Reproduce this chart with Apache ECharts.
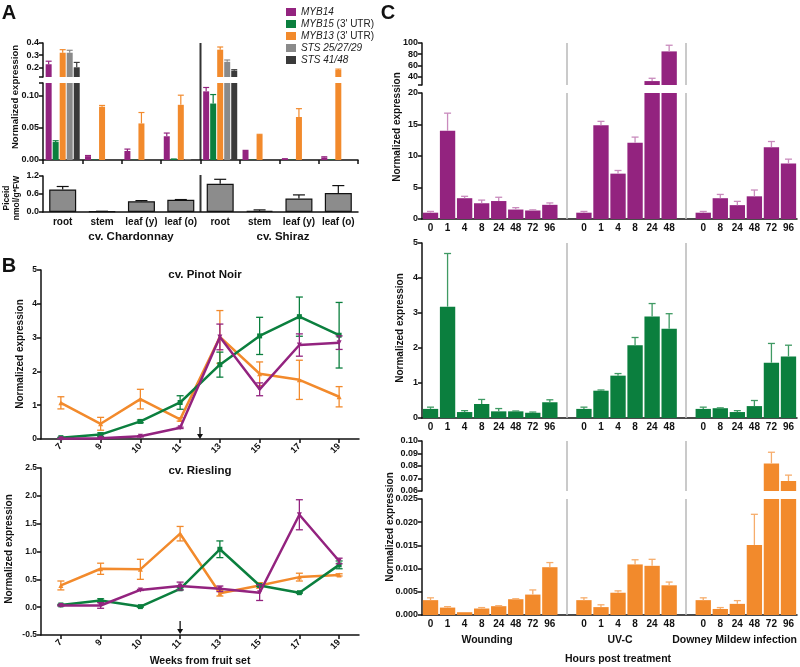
<!DOCTYPE html>
<html>
<head>
<meta charset="utf-8">
<script src="https://cdn.jsdelivr.net/npm/echarts@6.0.0/dist/echarts.min.js"></script>
<style>
html, body { margin: 0; padding: 0; background: #fff; }
#chart { width: 800px; height: 667px; }
</style>
</head>
<body>
<div id="chart"></div>
<script>
// ---------- panel A : tissues ----------
var tissues = ['root', 'stem', 'leaf (y)', 'leaf (o)', 'root', 'stem', 'leaf (y)', 'leaf (o)'];
var myb14 = [0.225, 0.006, 0.014, 0.037, 0.107, 0.014, 0.0015, 0.004];
var myb14Err = [0.025, 0.001, 0.003, 0.005, 0.006, 0.001, 0.0005, 0.001];
var myb15 = [0.028, 0.0008, 0.0005, 0.0025, 0.088, 0.0005, 0.0005, 0.001];
var myb15Err = [0.002, 0, 0, 0, 0.014, 0, 0, 0];
var myb13 = [0.32, 0.083, 0.057, 0.086, 0.345, 0.039, 0.067, 0.178];
var myb13Err = [0.025, 0.002, 0.017, 0.015, 0.022, 0.001, 0.013, 0.007];
var sts25 = [0.32, 0, 0, 0.001, 0.245, 0, 0, 0];
var sts25Err = [0.02, 0, 0, 0, 0.015, 0, 0, 0];
var sts41 = [0.2, 0, 0, 0.0003, 0.172, 0, 0, 0];
var sts41Err = [0.04, 0, 0, 0, 0.008, 0, 0, 0];
var piceid = [0.75, 0.02, 0.36, 0.41, 0.94, 0.04, 0.45, 0.63];
var piceidErr = [0.1, 0.005, 0.02, 0.005, 0.15, 0.03, 0.12, 0.25];

// ---------- panel B : berry development ----------
var weeks = ['7', '9', '10', '11', '13', '15', '17', '19'];
var pnMyb14 = [0.01, 0.02, 0.08, 0.33, 3.02, 1.47, 2.78, 2.85];
var pnMyb14Err = [0.01, 0.02, 0.02, 0.02, 0.38, 0.19, 0.33, 0.2];
var pnMyb15 = [0.04, 0.13, 0.52, 1.08, 2.2, 3.05, 3.62, 3.07];
var pnMyb15Err = [0.01, 0.05, 0.04, 0.2, 0.37, 0.55, 0.58, 0.97];
var pnMyb13 = [1.07, 0.45, 1.18, 0.58, 3.02, 1.93, 1.75, 1.25];
var pnMyb13Err = [0.18, 0.19, 0.29, 0.05, 0.78, 0.35, 0.58, 0.3];
var rsMyb14 = [0.03, 0.03, 0.31, 0.38, 0.33, 0.26, 1.66, 0.83];
var rsMyb14Err = [0.01, 0.05, 0.01, 0.07, 0.05, 0.14, 0.27, 0.05];
var rsMyb15 = [0.04, 0.12, 0.01, 0.33, 1.04, 0.39, 0.26, 0.76];
var rsMyb15Err = [0.01, 0.03, 0.01, 0.02, 0.15, 0.02, 0.01, 0.07];
var rsMyb13 = [0.39, 0.69, 0.68, 1.32, 0.25, 0.39, 0.54, 0.58];
var rsMyb13Err = [0.08, 0.1, 0.18, 0.13, 0.05, 0.05, 0.07, 0.02];

// ---------- panel C : treatments (g1/g2 = empty slots between groups) ----------
var hours = ['0', '1', '4', '8', '24', '48', '72', '96', 'g1', '0', '1', '4', '8', '24', '48', 'g2', '0', '8', '24', '48', '72', '96'];
var cMyb14 = [1.0, 14.0, 3.3, 2.5, 2.85, 1.5, 1.35, 2.25, null, 1.0, 14.9, 7.2, 12.1, 32, 85, null, 1.0, 3.3, 2.2, 3.6, 11.4, 8.8];
var cMyb14Err = [0.2, 2.8, 0.3, 0.5, 0.6, 0.3, 0.1, 0.3, null, 0.2, 0.6, 0.5, 0.9, 5, 11, null, 0.2, 0.6, 0.6, 1.0, 0.9, 0.7];
var cMyb15 = [0.26, 3.18, 0.17, 0.4, 0.19, 0.19, 0.15, 0.45, null, 0.26, 0.78, 1.21, 2.08, 2.9, 2.55, null, 0.26, 0.28, 0.17, 0.34, 1.58, 1.76];
var cMyb15Err = [0.05, 1.52, 0.04, 0.13, 0.08, 0.01, 0.02, 0.07, null, 0.05, 0.02, 0.06, 0.22, 0.37, 0.43, null, 0.05, 0.01, 0.04, 0.16, 0.55, 0.32];
var cMyb13 = [0.0032, 0.0016, 0.0006, 0.0014, 0.0019, 0.0034, 0.0044, 0.0103, null, 0.0032, 0.0017, 0.0048, 0.0109, 0.0106, 0.0064, null, 0.0032, 0.0013, 0.0024, 0.0151, 0.082, 0.068];
var cMyb13Err = [0.0005, 0.0002, 0, 0.0002, 0.0001, 0.0001, 0.001, 0.001, null, 0.0005, 0.0005, 0.0004, 0.001, 0.0014, 0.0007, null, 0.0005, 0.0003, 0.0007, 0.0066, 0.009, 0.0047];

var purple = '#93237f', green = '#0b7f3e', orange = '#f28a2c', grey = '#8a8a8a', dark = '#3a3a3a';
var FONT = '"Liberation Sans", Arial, sans-serif';
var INK = '#111';

var chart = echarts.init(document.getElementById('chart'));

var grids = [
    { left: 43, top: 43, width: 315, height: 34 },    // 0 A upper
    { left: 43, top: 83, width: 315, height: 77 },    // 1 A lower
    { left: 43, top: 176, width: 315, height: 36 },   // 2 A piceid
    { left: 41, top: 270, width: 318, height: 169 },  // 3 B pinot
    { left: 41, top: 468, width: 318, height: 167 },  // 4 B riesling
    { left: 422, top: 43, width: 375, height: 42 },   // 5 C top upper
    { left: 422, top: 93, width: 375, height: 126 },  // 6 C top lower
    { left: 422, top: 243, width: 375, height: 175 }, // 7 C middle
    { left: 422, top: 441, width: 375, height: 50 },  // 8 C bottom upper
    { left: 422, top: 499, width: 375, height: 116 }  // 9 C bottom lower
];

function fix(n) { return function (v) { return v.toFixed(n); }; }

function yAxisCfg(g, o) {
    var a = {
        type: 'value', gridIndex: g, min: o.min, max: o.max,
        axisLine: { show: true, lineStyle: { color: INK, width: 1.5 } },
        axisTick: { show: true, length: 4, lineStyle: { color: INK, width: 1.5 } },
        axisLabel: { fontSize: o.fs || 9, fontWeight: 'bold', color: INK, fontFamily: FONT, margin: 4, formatter: o.fmt },
        splitLine: { show: false }
    };
    if (o.interval != null) a.interval = o.interval;
    if (o.labels) a.axisLabel.customValues = o.labels;
    if (o.ticks) a.axisTick.customValues = o.ticks;
    return a;
}

function xAxisCfg(g, cats, o) {
    return {
        type: 'category', gridIndex: g, data: cats, show: o.show !== false,
        axisLine: { show: true, onZero: false, lineStyle: { color: INK, width: 1.5 } },
        axisTick: { show: !!o.ticks, alignWithLabel: !!o.align, interval: 0, length: 4, lineStyle: { color: INK, width: 1.5 } },
        axisLabel: {
            show: !!o.labels, interval: 0, rotate: o.rotate || 0, fontSize: o.fs || 10, fontWeight: 'bold',
            color: INK, fontFamily: FONT, margin: o.margin || 5,
            formatter: function (v) { return (v === 'g1' || v === 'g2') ? '' : v; }
        }
    };
}

var xAxes = [
    xAxisCfg(0, tissues, { show: false }),
    xAxisCfg(1, tissues, { ticks: true }),
    xAxisCfg(2, tissues, { labels: true, margin: 5 }),
    xAxisCfg(3, weeks, { labels: true, ticks: true, align: true, rotate: 45, fs: 9, margin: 6 }),
    xAxisCfg(4, weeks, { labels: true, ticks: true, align: true, rotate: 45, fs: 9, margin: 6 }),
    xAxisCfg(5, hours, { show: false }),
    xAxisCfg(6, hours, { labels: true, margin: 4 }),
    xAxisCfg(7, hours, { labels: true, margin: 4 }),
    xAxisCfg(8, hours, { show: false }),
    xAxisCfg(9, hours, { labels: true, margin: 4 })
];

var yAxes = [
    yAxisCfg(0, { min: 0.12, max: 0.4, labels: [0.2, 0.3, 0.4], ticks: [0.12, 0.2, 0.3, 0.4], fmt: fix(1) }),
    yAxisCfg(1, { min: 0, max: 0.12, labels: [0, 0.05, 0.1], ticks: [0, 0.05, 0.1, 0.12], fmt: fix(2) }),
    yAxisCfg(2, { min: 0, max: 1.2, interval: 0.6, fmt: fix(1) }),
    yAxisCfg(3, { min: 0, max: 5, interval: 1, fmt: fix(0), fs: 8.5 }),
    yAxisCfg(4, { min: -0.5, max: 2.5, interval: 0.5, fmt: fix(1), fs: 8.5 }),
    yAxisCfg(5, { min: 25, max: 100, labels: [40, 60, 80, 100], ticks: [25, 40, 60, 80, 100], fmt: fix(0) }),
    yAxisCfg(6, { min: 0, max: 20, interval: 5, fmt: fix(0) }),
    yAxisCfg(7, { min: 0, max: 5, interval: 1, fmt: fix(0) }),
    yAxisCfg(8, { min: 0.06, max: 0.1, labels: [0.06, 0.07, 0.08, 0.09, 0.1], ticks: [0.06, 0.07, 0.08, 0.09, 0.1], fmt: fix(2) }),
    yAxisCfg(9, { min: 0, max: 0.025, interval: 0.005, fmt: fix(3) })
];

var series = [];

// error whisker helper (upward only or both ways)
function whisker(x, y0, y1, half, both) {
    var kids = [
        { type: 'line', shape: { x1: x, y1: y0, x2: x, y2: y1 } },
        { type: 'line', shape: { x1: x - half, y1: y1, x2: x + half, y2: y1 } }
    ];
    if (both) kids.push({ type: 'line', shape: { x1: x - half, y1: y0, x2: x + half, y2: y0 } });
    return kids;
}

// ---- A bars, drawn in both halves of the broken axis ----
var aGenes = [
    { name: 'MYB14', v: myb14, e: myb14Err, c: purple },
    { name: 'MYB15', v: myb15, e: myb15Err, c: green },
    { name: 'MYB13', v: myb13, e: myb13Err, c: orange },
    { name: 'STS 25/27/29', v: sts25, e: sts25Err, c: grey },
    { name: 'STS 41/48', v: sts41, e: sts41Err, c: dark }
];
[0, 1].forEach(function (g) {
    aGenes.forEach(function (gene) {
        series.push({
            type: 'bar', name: gene.name, xAxisIndex: g, yAxisIndex: g, data: gene.v,
            barWidth: 6, barGap: '17%', clip: true, itemStyle: { color: gene.c }
        });
    });
    var rows = [];
    aGenes.forEach(function (gene, k) {
        gene.v.forEach(function (v, i) { if (gene.e[i] > 0) rows.push([i, v, v + gene.e[i], k]); });
    });
    series.push({
        type: 'custom', name: 'errA' + g, xAxisIndex: g, yAxisIndex: g, data: rows, clip: true, z: 3,
        encode: { x: 0, y: [1, 2] },
        renderItem: function (params, api) {
            var k = api.value(3);
            var b = api.coord([api.value(0), api.value(1)]);
            var t = api.coord([api.value(0), api.value(2)]);
            var x = b[0] + (k - 2) * 7.02;
            return { type: 'group', children: whisker(x, b[1], t[1], 3, false).map(function (s) {
                s.style = { stroke: aGenes[k].c, lineWidth: 1.2 }; return s; }) };
        }
    });
});

// ---- A piceid ----
series.push({
    type: 'bar', name: 'Piceid', xAxisIndex: 2, yAxisIndex: 2, data: piceid, barWidth: 27,
    itemStyle: { color: '#8c8c8c', borderColor: INK, borderWidth: 1.2 }
});
series.push({
    type: 'custom', name: 'errPiceid', xAxisIndex: 2, yAxisIndex: 2, z: 3,
    data: piceid.map(function (v, i) { return [i, v, v + piceidErr[i]]; }),
    encode: { x: 0, y: [1, 2] },
    renderItem: function (params, api) {
        var b = api.coord([api.value(0), api.value(1)]);
        var t = api.coord([api.value(0), api.value(2)]);
        return { type: 'group', children: whisker(b[0], b[1], t[1], 6, false).map(function (s) {
            s.style = { stroke: INK, lineWidth: 1.2 }; return s; }) };
    }
});

// ---- B lines ----
function lineSet(g, tag, sets) {
    sets.forEach(function (s) {
        series.push({
            type: 'line', name: s.n + ' ' + tag, xAxisIndex: g, yAxisIndex: g, data: s.v,
            symbol: s.sym, symbolSize: 5, symbolRotate: s.rot || 0,
            lineStyle: { color: s.c, width: 2.5 }, itemStyle: { color: s.c }, z: s.z
        });
        series.push({
            type: 'custom', name: 'err ' + s.n + ' ' + tag, xAxisIndex: g, yAxisIndex: g, z: s.z,
            data: s.v.map(function (v, i) { return [i, v - s.e[i], v + s.e[i]]; }),
            encode: { x: 0, y: [1, 2] },
            renderItem: function (params, api) {
                var lo = api.coord([api.value(0), api.value(1)]);
                var hi = api.coord([api.value(0), api.value(2)]);
                return { type: 'group', children: whisker(lo[0], lo[1], hi[1], 3.5, true).map(function (k) {
                    k.style = { stroke: s.c, lineWidth: 1.3 }; return k; }) };
            }
        });
    });
}
lineSet(3, 'Pinot Noir', [
    { n: 'MYB13', v: pnMyb13, e: pnMyb13Err, c: orange, sym: 'triangle', z: 2 },
    { n: 'MYB15', v: pnMyb15, e: pnMyb15Err, c: green, sym: 'rect', z: 3 },
    { n: 'MYB14', v: pnMyb14, e: pnMyb14Err, c: purple, sym: 'triangle', rot: 180, z: 4 }
]);
lineSet(4, 'Riesling', [
    { n: 'MYB13', v: rsMyb13, e: rsMyb13Err, c: orange, sym: 'triangle', z: 2 },
    { n: 'MYB15', v: rsMyb15, e: rsMyb15Err, c: green, sym: 'rect', z: 3 },
    { n: 'MYB14', v: rsMyb14, e: rsMyb14Err, c: purple, sym: 'triangle', rot: 180, z: 4 }
]);

// ---- C bars ----
var divider = {
    silent: true, symbol: 'none', animation: false, label: { show: false },
    lineStyle: { color: '#b8b8b8', width: 1.5, type: 'solid' },
    data: [{ xAxis: 'g1' }, { xAxis: 'g2' }]
};
function cBars(g, name, vals, errs, col, errCol) {
    series.push({
        type: 'bar', name: name + ' C' + g, xAxisIndex: g, yAxisIndex: g, data: vals,
        barCategoryGap: '10%', clip: true, itemStyle: { color: col }, markLine: divider
    });
    var rows = [];
    vals.forEach(function (v, i) { if (v != null && errs[i] > 0) rows.push([i, v, v + errs[i]]); });
    series.push({
        type: 'custom', name: 'err ' + name + ' C' + g, xAxisIndex: g, yAxisIndex: g, data: rows, clip: true, z: 3,
        encode: { x: 0, y: [1, 2] },
        renderItem: function (params, api) {
            var b = api.coord([api.value(0), api.value(1)]);
            var t = api.coord([api.value(0), api.value(2)]);
            return { type: 'group', children: whisker(b[0], b[1], t[1], 3.5, false).map(function (k) {
                k.style = { stroke: errCol, lineWidth: 1.3 }; return k; }) };
        }
    });
}
cBars(5, 'MYB14', cMyb14, cMyb14Err, purple, '#c98bbd');
cBars(6, 'MYB14', cMyb14, cMyb14Err, purple, '#c98bbd');
cBars(7, 'MYB15', cMyb15, cMyb15Err, green, '#3f9a63');
cBars(8, 'MYB13', cMyb13, cMyb13Err, orange, '#f6ad6c');
cBars(9, 'MYB13', cMyb13, cMyb13Err, orange, '#f6ad6c');

// ---- free text and decorations ----
function txt(s, x, y, size, o) {
    o = o || {};
    return {
        type: 'text', x: x, y: y, rotation: o.rot || 0, silent: true, z: 10,
        style: {
            text: s, font: (o.weight || 'bold') + ' ' + size + 'px ' + FONT, fill: INK,
            textAlign: o.align || 'center', textVerticalAlign: 'middle', align: o.align || 'center', verticalAlign: 'middle',
            lineHeight: o.lh || size + 1
        }
    };
}
function arrow(x, y0, y1) {
    return {
        type: 'group', silent: true, children: [
            { type: 'line', shape: { x1: x, y1: y0, x2: x, y2: y1 - 4 }, style: { stroke: INK, lineWidth: 1.3 } },
            { type: 'polygon', shape: { points: [[x - 3, y1 - 5], [x + 3, y1 - 5], [x, y1]] }, style: { fill: INK } }
        ]
    };
}
var R = Math.PI / 2;
var aMid = grids[1].left + grids[1].width / 2;
var graphic = [
    txt('A', 9, 13, 20), txt('B', 9, 266, 20), txt('C', 388, 13, 20),
    txt('Normalized expression', 15, 97, 9.5, { rot: R }),
    txt('Piceid\nnmol/g*FW', 12, 198, 8.5, { rot: R, lh: 10 }),
    txt('cv. Chardonnay', 131, 237, 11.5), txt('cv. Shiraz', 283, 237, 11.5),
    txt('cv. Pinot Noir', 205, 275, 11.5), txt('cv. Riesling', 200, 471, 11.5),
    txt('Normalized expression', 20, 354, 10, { rot: R }),
    txt('Normalized expression', 9, 549, 10, { rot: R }),
    txt('Weeks from fruit set', 200, 661, 10.5),
    txt('Normalized expression', 397, 127, 10, { rot: R }),
    txt('Normalized expression', 400, 328, 10, { rot: R }),
    txt('Normalized expression', 390, 527, 10, { rot: R }),
    txt('Wounding', 487, 640, 10.5), txt('UV-C', 620, 640, 10.5), txt('Downey Mildew infection', 797, 640, 10.5, { align: 'right' }),
    txt('Hours post treatment', 618, 659, 10.5),
    { type: 'line', silent: true, shape: { x1: aMid, y1: 43, x2: aMid, y2: 160 }, style: { stroke: '#333', lineWidth: 2 } },
    { type: 'line', silent: true, shape: { x1: aMid, y1: 175, x2: aMid, y2: 212 }, style: { stroke: '#333', lineWidth: 2 } },
    arrow(grids[3].left + grids[3].width / 2, 427, 439),
    arrow(grids[4].left + grids[4].width * 3.5 / 8, 621, 634)
];

chart.setOption({
    animation: false,
    textStyle: { fontFamily: FONT },
    grid: grids,
    xAxis: xAxes,
    yAxis: yAxes,
    legend: {
        data: ['MYB14', 'MYB15', 'MYB13', 'STS 25/27/29', 'STS 41/48'],
        left: 281, top: 2, orient: 'vertical', itemWidth: 10, itemHeight: 8, itemGap: 2, icon: 'rect',
        selectedMode: false,
        textStyle: {
            fontSize: 10, color: '#222', fontFamily: FONT,
            rich: { i: { fontStyle: 'italic', fontSize: 10, color: '#222', fontFamily: FONT } }
        },
        formatter: function (n) {
            if (n === 'MYB15' || n === 'MYB13') return '{i|' + n + '} (3\' UTR)';
            return '{i|' + n + '}';
        }
    },
    graphic: graphic,
    series: series
});
</script>
</body>
</html>
